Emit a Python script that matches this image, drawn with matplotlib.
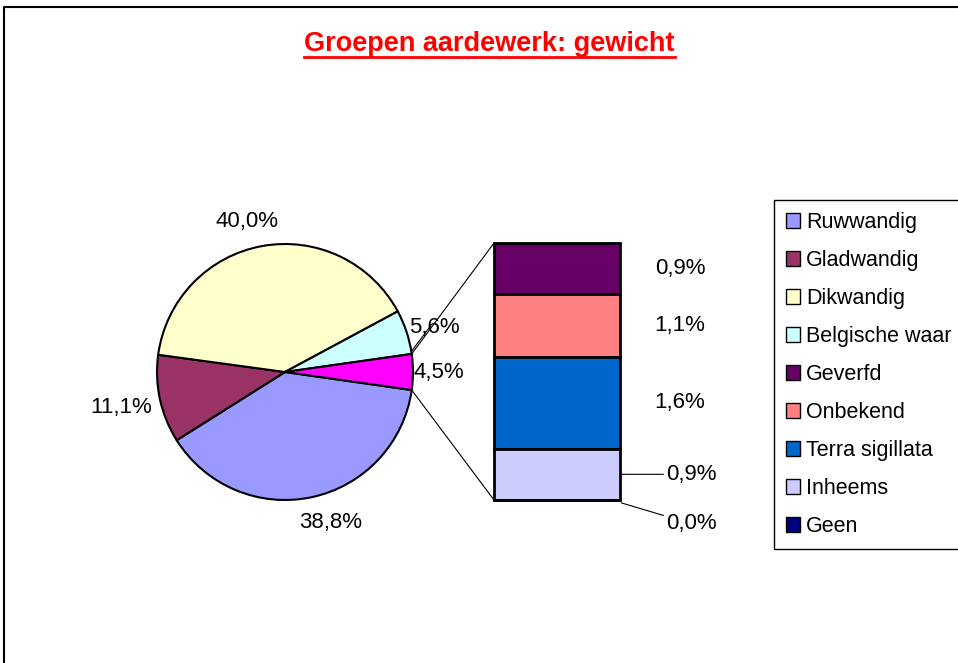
"""
Pie-of-bar diagram: groepen aardewerk naar gewicht
"""
import numpy as np
import matplotlib.pyplot as plt
from matplotlib.patches import Patch, ConnectionPatch
from matplotlib.lines import Line2D

plt.rcParams['font.family'] = ['Liberation Sans', 'DejaVu Sans']

# hoofdcirkel
pie_labels = ['Ruwwandig', 'Gladwandig', 'Dikwandig', 'Belgische waar']
pie_values = [38.8, 11.1, 40.0, 5.6]
pie_colors = ['#9999FF', '#993366', '#FFFFCC', '#CCFFFF']

# staaf met de kleine groepen (van boven naar beneden)
bar_labels = ['Geverfd', 'Onbekend', 'Terra sigillata', 'Inheems', 'Geen']
bar_values = [0.9, 1.1, 1.6, 0.9, 0.0]
bar_colors = ['#660066', '#FF8080', '#0066CC', '#CCCCFF', '#000080']
other_color = '#FF00FF'

W, H = 958, 663


def pct(v):
    return f"{v:.1f}%".replace('.', ',')


fig = plt.figure(figsize=(W / 100, H / 100), dpi=100)

# --- cirkel ---
ax1 = fig.add_axes([0, 0, 1, 1])
other = sum(bar_values)
vals = pie_values + [other]
cols = pie_colors + [other_color]
start = -other / sum(vals) * 360 / 2
cx, cy, r = 285, H - 372, 128
wedges, _ = ax1.pie(vals, colors=cols, startangle=start, counterclock=False,
                    center=(cx, cy), radius=r, frame=True,
                    wedgeprops=dict(edgecolor='black', linewidth=1.5))
ax1.set_xlim(0, W)
ax1.set_ylim(0, H)
ax1.axis('off')

# afstand (x straal) en hoekcorrectie (graden) per label
label_dist = [1.226, 1.31, 1.21, 1.22, 1.20]
label_rot = [5.0, 0.0, 3.9, -1.5, 0.0]
for w, v, d, dr in zip(wedges, vals, label_dist, label_rot):
    a = np.deg2rad((w.theta1 + w.theta2) / 2 + dr)
    ax1.text(cx + d * r * np.cos(a), cy + d * r * np.sin(a), pct(v),
             ha='center', va='center', fontsize=16)

# verbindingslijn naar label Belgische waar
wb = wedges[3]
a0 = np.deg2rad(wb.theta1 + 1.1)
am = np.deg2rad((wb.theta1 + wb.theta2) / 2 - 1.5)
ax1.plot([cx + r * np.cos(a0), cx + 1.22 * r * np.cos(am) - 5],
         [cy + r * np.sin(a0), cy + 1.22 * r * np.sin(am)],
         color='black', lw=0.8)

# --- staaf ---
ax2 = fig.add_axes([494 / W, (H - 500) / H, 126 / W, 257 / H])
bottoms = [sum(bar_values[i + 1:]) for i in range(len(bar_values))]
for v, b, c in zip(bar_values, bottoms, bar_colors):
    ax2.bar(0, v, bottom=b, width=1, color=c, edgecolor='black',
            linewidth=2, clip_on=False)
ax2.set_xlim(-0.5, 0.5)
ax2.set_ylim(0, other)
ax2.axis('off')

for i, (v, b) in enumerate(zip(bar_values, bottoms)):
    if i < 3:
        ax2.text(0.976, b + v / 2, pct(v), ha='center', va='center',
                 fontsize=16)
    else:
        off = (45, 0) if v > 0 else (45, -21)
        ax2.annotate(pct(v), xy=(0.51, b + v / 2 if v > 0 else -0.05),
                     xytext=off, textcoords='offset pixels',
                     ha='left', va='center', fontsize=16,
                     annotation_clip=False,
                     arrowprops=dict(arrowstyle='-', color='black', lw=0.8,
                                     shrinkA=0, shrinkB=0))

# lijnen tussen cirkel en staaf
wo = wedges[4]
for ang, yb in [(wo.theta2, other), (wo.theta1, 0)]:
    a = np.deg2rad(ang)
    con = ConnectionPatch(xyA=(cx + r * np.cos(a), cy + r * np.sin(a)),
                          coordsA=ax1.transData,
                          xyB=(-0.5, yb), coordsB=ax2.transData,
                          color='black', lw=0.8)
    fig.add_artist(con)

# --- legenda ---
handles = [Patch(facecolor=c, edgecolor='black', linewidth=1)
           for c in pie_colors + bar_colors]
leg = fig.legend(handles, pie_labels + bar_labels, loc='upper left',
                 bbox_to_anchor=(774 / W, 1 - 200 / H),
                 bbox_transform=fig.transFigure, borderaxespad=0,
                 fancybox=False, edgecolor='black', framealpha=1,
                 fontsize=15.5, handlelength=0.63, handleheight=0.63,
                 handletextpad=0.3, labelspacing=0.79, borderpad=0.56)
leg.get_frame().set_linewidth(1)

# --- titel met onderstreping ---
title = fig.text(489.5 / W, 1 - 44 / H, 'Groepen aardewerk: gewicht',
                 ha='center', va='center', fontsize=19.5, fontweight='bold',
                 color='red')
fig.canvas.draw()
bb = title.get_window_extent().transformed(fig.transFigure.inverted())
fig.add_artist(Line2D([bb.x0, bb.x1], [1 - 57 / H] * 2,
                      transform=fig.transFigure, color='red', lw=2))

# rand van de grafiek (alleen links en boven zichtbaar)
fig.add_artist(Line2D([4 / W, 4 / W, 1], [0, 1 - 7 / H, 1 - 7 / H],
                      transform=fig.transFigure, color='black', lw=1.5))

fig.savefig('out.png', dpi=100)
